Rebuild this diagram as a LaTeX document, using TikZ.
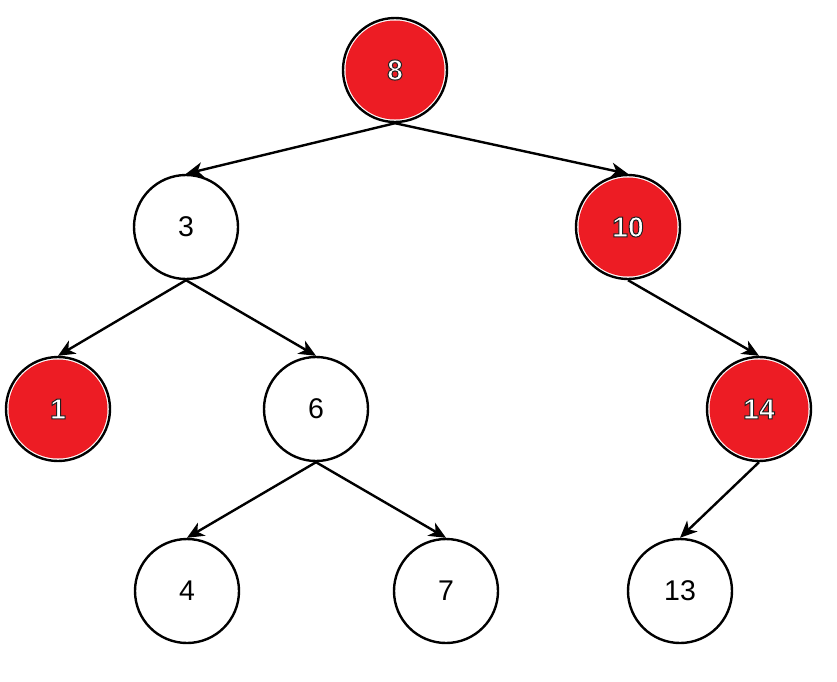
\documentclass[tikz,border=0pt]{standalone}
\usepackage{fontspec}
\setmainfont{Liberation Sans}
\usetikzlibrary{arrows.meta}
\definecolor{rbred}{HTML}{ED1C24}
\newcommand{\outlinedtext}[1]{\textcolor{white}{\bfseries\special{pdf:literal direct q 2 Tr 1.0 w 0.12 G}#1\special{pdf:literal direct Q}}}
\begin{document}
\begin{tikzpicture}[x=1pt,y=-1pt,
  treenode/.style={circle,draw=black,line width=2.4pt,minimum size=104pt,inner sep=0pt,font=\fontsize{28.5}{32}\selectfont,fill=white},
  rednode/.style={treenode,fill=white,
    path picture={\fill[rbred] (path picture bounding box.center) circle[radius=49.5pt];}},
  edge/.style={line width=2.4pt,-{Stealth[length=17pt,width=15pt,inset=5pt]}}]
\useasboundingbox (0,0) rectangle (837,681);
\node[rednode] (n8) at (395,70) {\outlinedtext{8}};
\node[treenode] (n3) at (186,227) {3};
\node[rednode] (n10) at (628,227) {\outlinedtext{10}};
\node[rednode] (n1) at (58,409) {\outlinedtext{1}};
\node[treenode] (n6) at (316,409) {6};
\node[rednode] (n14) at (759,409) {\outlinedtext{14}};
\node[treenode] (n4) at (187,591) {4};
\node[treenode] (n7) at (446,591) {7};
\node[treenode] (n13) at (680,591) {13};
\draw[edge] (n8.south) -- (n3.north);
\draw[edge] (n8.south) -- (n10.north);
\draw[edge] (n3.south) -- (n1.north);
\draw[edge] (n3.south) -- (n6.north);
\draw[edge] (n10.south) -- (n14.north);
\draw[edge] (n6.south) -- (n4.north);
\draw[edge] (n6.south) -- (n7.north);
\draw[edge] (n14.south) -- (n13.north);
\end{tikzpicture}
\end{document}
